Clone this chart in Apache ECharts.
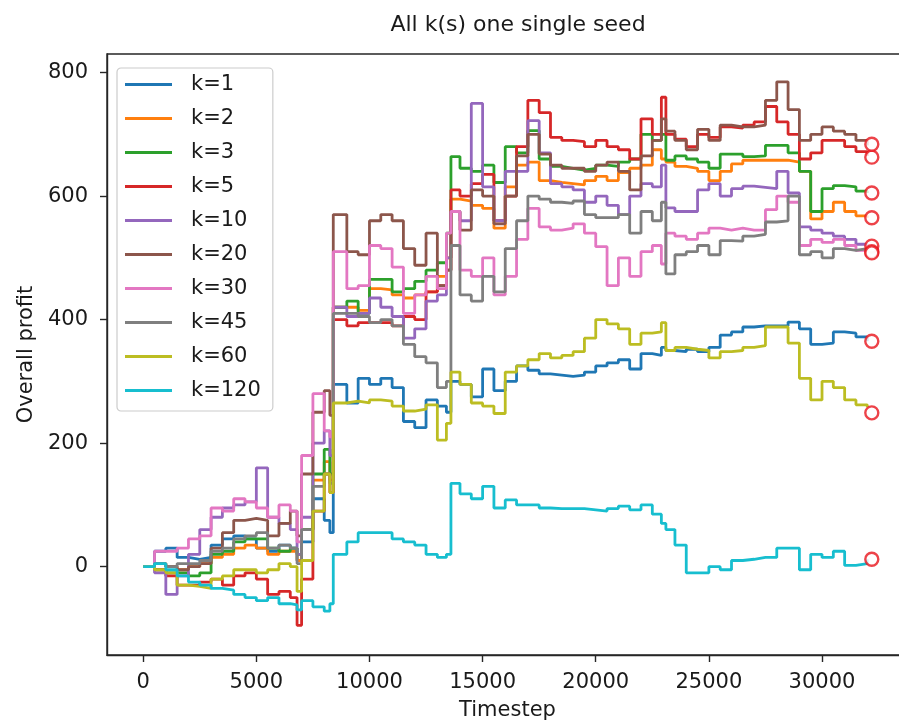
<!DOCTYPE html>
<html>
<head>
<meta charset="utf-8">
<script src="https://cdn.jsdelivr.net/npm/echarts@6/dist/echarts.min.js"></script>
<style>
html,body{margin:0;padding:0;background:#fff;}
#chart{width:899px;height:722px;}
</style>
</head>
<body>
<div id="chart"></div>
<script>
// ---- data ----
const timesteps = [0,500,1000,1500,2000,2500,3000,3500,4000,4500,5000,5500,6000,6500,6800,7000,7500,8000,8250,8400,9000,9500,10000,10500,11000,11500,12000,12500,13000,13400,13600,14000,14500,15000,15500,16000,16500,17000,17500,18000,18500,19000,19500,20000,20500,21000,21500,22000,22500,22900,23100,23500,24000,24500,25000,25500,26000,26500,27000,27500,28000,28500,29000,29500,30000,30500,31000,31500,32000];

const seriesNames = ['k=1','k=2','k=3','k=5','k=10','k=20','k=30','k=45','k=60','k=120'];

const k1 = [0,25,30,15,12,15,35,45,50,45,30,25,35,30,10,40,110,75,55,295,265,305,295,305,290,235,225,270,260,250,300,295,275,320,285,300,325,318,312,310,308,310,315,325,330,335,320,345,342,355,350,348,352,348,355,375,380,388,390,390,390,396,385,360,362,380,378,372,365];
const k2 = [0,5,0,-5,0,5,15,20,30,35,30,20,25,25,10,60,140,170,140,420,420,415,450,448,440,435,440,445,470,500,595,592,585,580,548,615,650,655,625,622,620,618,625,632,625,638,645,650,675,660,655,648,645,640,625,640,652,658,658,658,658,655,640,563,575,590,575,568,565];
const k3 = [0,-5,-10,-10,-15,-10,20,25,40,45,45,30,25,30,20,60,150,190,150,420,430,410,465,465,445,450,462,480,492,540,664,645,640,650,622,680,670,706,660,648,645,642,645,650,648,655,660,700,690,700,658,665,660,655,645,668,668,664,665,682,682,670,640,575,612,617,615,608,605];
const k5 = [0,-5,-15,-30,-30,-25,-20,-30,-15,-10,-20,-45,-40,-50,-95,-20,90,150,120,400,390,395,395,395,390,405,400,445,455,480,610,600,620,635,560,600,680,755,735,695,690,688,680,690,680,675,660,725,700,760,700,692,680,700,695,712,710,715,720,745,720,700,660,670,690,690,680,672,665];
const k10 = [0,-10,-45,-15,20,60,80,95,100,105,160,80,70,60,20,80,200,220,180,420,405,410,435,420,405,370,385,430,440,500,575,560,750,615,560,640,640,722,670,620,615,610,590,600,585,570,600,620,615,650,581,575,575,610,620,600,612,616,614,612,640,605,550,545,540,535,530,522,519];
const k20 = [0,5,0,-5,0,5,30,55,75,78,75,50,70,90,50,150,250,285,245,570,510,505,560,570,560,515,488,540,455,480,575,545,610,600,555,600,665,700,668,650,645,645,640,650,655,640,610,665,690,725,705,690,675,708,690,715,712,712,715,755,785,740,690,700,712,705,700,690,682];
const k30 = [0,25,25,30,45,50,95,90,110,105,95,80,100,90,40,180,280,220,210,510,450,455,520,515,485,410,440,470,450,540,575,480,470,500,440,470,530,580,550,545,548,555,540,518,455,500,470,510,520,490,540,535,530,540,548,545,548,545,545,578,600,590,520,530,525,530,520,512,512];
const k45 = [0,5,0,5,5,10,25,30,45,50,55,30,35,30,5,60,130,150,135,410,410,405,395,400,390,360,340,330,290,300,520,440,430,470,445,515,560,600,595,590,588,592,570,565,565,570,540,575,560,590,474,505,510,520,505,528,527,535,538,558,560,600,505,510,500,515,512,515,512];
const k60 = [0,-5,-10,-30,-32,-35,-20,-15,-5,-5,-10,-5,5,0,-40,10,90,150,120,265,268,265,270,268,260,252,255,262,205,232,315,295,265,260,248,315,325,335,345,338,342,348,370,400,393,385,360,378,380,395,350,355,352,350,338,348,350,355,358,388,388,362,305,270,300,290,270,262,258];
const k120 = [0,5,-5,-15,-25,-30,-35,-38,-45,-50,-55,-50,-60,-62,-70,-55,-65,-72,-60,20,40,55,55,55,45,40,35,20,15,20,135,118,110,130,95,108,100,100,95,94,94,94,92,90,94,98,92,100,85,70,60,35,-10,-10,0,-5,10,12,15,15,30,30,-5,20,15,25,2,5,12];

const markerTimestep = 32200;
const markerValues = [365,565,605,663,519,684,510,508,249,12];

const xTicks = [0,5000,10000,15000,20000,25000,30000];
const yTicks = [0,200,400,600,800];

const colors = ['#1f77b4','#ff7f0e','#2ca02c','#d62728','#9467bd','#8c564b','#e377c2','#7f7f7f','#bcbd22','#17becf'];
const allValues = [k1,k2,k3,k5,k10,k20,k30,k45,k60,k120];

// ---- chart ----
const chart = echarts.init(document.getElementById('chart'), null, {renderer:'canvas'});
const FONT = '"DejaVu Sans", sans-serif';
const TXT = '#1a1a1a';

const lineSeries = seriesNames.map((name, i) => ({
  name: name,
  type: 'line',
  data: timesteps.map((t, j) => [t, allValues[i][j]]),
  symbol: 'none',
  step: 'end',
  lineStyle: {width: 2.8, color: colors[i]},
  itemStyle: {color: colors[i]},
  animation: false,
  z: 2
}));

const markerSeries = {
  name: 'final',
  type: 'scatter',
  data: markerValues.map(v => [markerTimestep, v]),
  symbol: 'circle',
  symbolSize: 13,
  itemStyle: {color: '#ffffff', borderColor: '#e8141c', borderWidth: 2.4},
  animation: false,
  z: 3
};

chart.setOption({
  backgroundColor: '#ffffff',
  animation: false,
  title: {
    text: 'All k(s) one single seed',
    left: 513, top: 9, textAlign: 'center',
    textStyle: {fontFamily: FONT, fontSize: 22, fontWeight: 'normal', color: TXT}
  },
  legend: {
    data: seriesNames,
    orient: 'vertical',
    left: 117, top: 68,
    padding: [6, 12, 10, 8],
    itemGap: 13,
    itemWidth: 47, itemHeight: 3,
    icon: 'rect',
    backgroundColor: 'rgba(255,255,255,0.85)',
    borderColor: '#cccccc', borderWidth: 1.2, borderRadius: 4,
    textStyle: {fontFamily: FONT, fontSize: 21, color: TXT, lineHeight: 21, padding: [0,0,0,14]}
  },
  grid: {
    left: 107, top: 54, width: 801, height: 601,
    containLabel: false, outerBoundsMode: 'none',
    show: true, borderColor: '#262626', borderWidth: 1.4, backgroundColor: 'transparent'
  },
  xAxis: {
    type: 'value', min: -1600, max: 33800,
    name: 'Timestep', nameLocation: 'middle', nameGap: 45,
    nameTextStyle: {fontFamily: FONT, fontSize: 21, color: TXT},
    axisLine: {show: true, onZero: false, lineStyle: {color: '#262626', width: 1.4}},
    axisTick: {show: true, length: 7, lineStyle: {color: '#262626', width: 1.4}, customValues: xTicks},
    axisLabel: {fontFamily: FONT, fontSize: 21, color: TXT, margin: 17, customValues: xTicks, formatter: v => String(v)},
    splitLine: {show: false}
  },
  yAxis: {
    type: 'value', min: -143, max: 830,
    name: 'Overall profit', nameLocation: 'middle', nameGap: 70, nameRotate: 90,
    nameTextStyle: {fontFamily: FONT, fontSize: 21, color: TXT},
    axisLine: {show: true, onZero: false, lineStyle: {color: '#262626', width: 1.4}},
    axisTick: {show: true, length: 7, lineStyle: {color: '#262626', width: 1.4}, customValues: yTicks},
    axisLabel: {fontFamily: FONT, fontSize: 21, color: TXT, margin: 19, customValues: yTicks, formatter: v => String(v)},
    splitLine: {show: false}
  },
  series: lineSeries.concat([markerSeries])
});
</script>
</body>
</html>
